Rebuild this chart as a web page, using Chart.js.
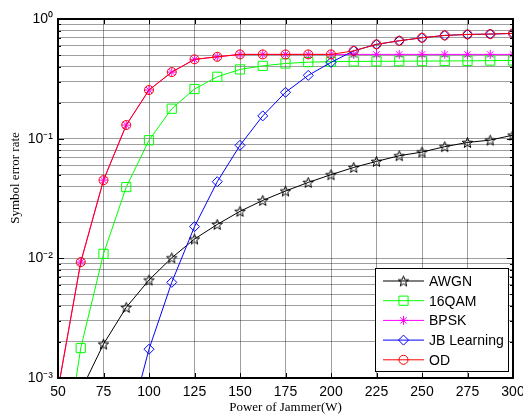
<!DOCTYPE html>
<html>
<head>
<meta charset="utf-8">
<script src="https://cdn.jsdelivr.net/npm/chart.js@4"></script>
<style>
  html, body { margin: 0; padding: 0; background: #fff; }
  #wrap { width: 523px; height: 418px; position: relative; }
</style>
</head>
<body>
<div id="wrap"><canvas id="chart"></canvas></div>
<script>
// Power of jammer (W)
const power = [50, 62.5, 75, 87.5, 100, 112.5, 125, 137.5, 150, 162.5, 175,
  187.5, 200, 212.5, 225, 237.5, 250, 262.5, 275, 287.5, 300];

const awgn = [null, 0.00078, 0.00192, 0.00389, 0.00659, 0.0101, 0.0145, 0.0192,
  0.0247, 0.0305, 0.0365, 0.0431, 0.050, 0.0575, 0.0646, 0.072, 0.0773, 0.0857,
  0.093, 0.0973, 0.107];
const qam16 = [0.0001, 0.00178, 0.0109, 0.0394, 0.097, 0.178, 0.26, 0.329, 0.379,
  0.406, 0.425, 0.436, 0.44, 0.442, 0.443, 0.444, 0.445, 0.446, 0.447, 0.449, 0.45];
const bpsk = [0.0008, 0.0093, 0.045, 0.13, 0.255, 0.36, 0.46, 0.483, 0.506, 0.506,
  0.506, 0.506, 0.506, 0.506, 0.506, 0.506, 0.506, 0.506, 0.506, 0.506, 0.506];
const jbLearning = [null, null, null, 0.00033, 0.00174, 0.0063, 0.0184, 0.0437,
  0.088, 0.155, 0.244, 0.338, 0.434, 0.542, 0.614, 0.658, 0.697, 0.729, 0.743,
  0.748, 0.758];
const od = [0.0008, 0.0093, 0.045, 0.13, 0.255, 0.36, 0.46, 0.483, 0.506, 0.506,
  0.506, 0.506, 0.506, 0.542, 0.614, 0.658, 0.697, 0.729, 0.743, 0.748, 0.758];

const xTicks = [50, 75, 100, 125, 150, 175, 200, 225, 250, 275, 300];
const yDecades = [0.001, 0.01, 0.1, 1];
const yDecadeLabels = ["10\u207B\u00B3", "10\u207B\u00B2", "10\u207B\u00B9", "10\u2070"];

// minor log ticks 1..9 per decade
const yTicks = [];
for (let d = 0; d < 3; d++) {
  for (let m = 1; m < 10; m++) yTicks.push(+(m * yDecades[d]).toPrecision(3));
}
yTicks.push(1);

// five pointed star marker (matlab 'p')
function pentagram(r, color) {
  const c = document.createElement("canvas");
  const s = Math.ceil(r * 2 + 4);
  c.width = s; c.height = s;
  const g = c.getContext("2d");
  g.translate(s / 2, s / 2 + 0.5);
  g.beginPath();
  for (let i = 0; i < 10; i++) {
    const rr = i % 2 === 0 ? r : r * 0.42;
    const a = -Math.PI / 2 + i * Math.PI / 5;
    g[i === 0 ? "moveTo" : "lineTo"](rr * Math.cos(a), rr * Math.sin(a));
  }
  g.closePath();
  g.strokeStyle = color;
  g.lineWidth = 1;
  g.stroke();
  return c;
}
const starImg = pentagram(5.5, "#000");

const series = [
  { label: "AWGN", data: awgn, color: "#000000", style: starImg, r: 5, order: 4 },
  { label: "16QAM", data: qam16, color: "#00ff00", style: "rect", r: 6.5, order: 3 },
  { label: "BPSK", data: bpsk, color: "#ff00ff", style: "star", r: 4.5, order: 2 },
  { label: "JB Learning", data: jbLearning, color: "#0000ff", style: "rectRot", r: 5, order: 1 },
  { label: "OD", data: od, color: "#ff0000", style: "circle", r: 4.5, order: 0 },
];

const box = {
  id: "box",
  afterDatasetsDraw(chart) {
    const { ctx, chartArea: a, scales } = chart;
    ctx.save();
    ctx.strokeStyle = "#000";
    ctx.lineWidth = 1;
    ctx.beginPath();
    // inner ticks on all four sides
    xTicks.forEach((v) => {
      const x = Math.round(scales.x.getPixelForValue(v)) + 0.5;
      ctx.moveTo(x, a.bottom); ctx.lineTo(x, a.bottom - 5);
      ctx.moveTo(x, a.top); ctx.lineTo(x, a.top + 5);
    });
    yTicks.forEach((v) => {
      const y = Math.round(scales.y.getPixelForValue(v)) + 0.5;
      const len = yDecades.includes(v) ? 6 : 3;
      ctx.moveTo(a.left, y); ctx.lineTo(a.left + len, y);
      ctx.moveTo(a.right, y); ctx.lineTo(a.right - len, y);
    });
    ctx.stroke();
    ctx.lineWidth = 2;
    ctx.strokeRect(a.left, a.top, a.right - a.left, a.bottom - a.top);

    // legend
    const lx = 375, ly = 268, lw = 133, lh = 103;
    ctx.fillStyle = "#fff";
    ctx.fillRect(lx, ly, lw, lh);
    ctx.strokeStyle = "#000";
    ctx.lineWidth = 1;
    ctx.strokeRect(lx + 0.5, ly + 0.5, lw, lh);
    ctx.font = "14px 'Liberation Sans', Arial, sans-serif";
    ctx.textBaseline = "middle";
    series.forEach((s, i) => {
      const y = 281 + i * 19.7;
      ctx.strokeStyle = s.color;
      ctx.lineWidth = 1;
      ctx.beginPath();
      ctx.moveTo(383, y); ctx.lineTo(424, y);
      ctx.stroke();
      ctx.fillStyle = "rgba(0,0,0,0)";
      Chart.helpers.drawPoint(ctx, {
        pointStyle: s.style, radius: s.r, borderWidth: 1, rotation: 0
      }, 403.5, y);
      ctx.fillStyle = "#000";
      ctx.fillText(s.label, 429, y + 1);
    });

    // axis titles
    ctx.fillStyle = "#000";
    ctx.font = "13px 'Liberation Serif', 'Times New Roman', serif";
    ctx.textAlign = "center";
    ctx.textBaseline = "middle";
    ctx.fillText("Power of Jammer(W)", 285.5, 408);
    ctx.translate(16, 178);
    ctx.rotate(-Math.PI / 2);
    ctx.fillText("Symbol error rate", 0, 0);
    ctx.restore();
  }
};

new Chart(document.getElementById("chart"), {
  type: "line",
  data: {
    labels: power,
    datasets: series.map((s) => ({
      label: s.label,
      data: s.data.map((v, i) => ({ x: power[i], y: v })),
      borderColor: s.color,
      backgroundColor: "rgba(0,0,0,0)",
      borderWidth: 1,
      pointStyle: s.style,
      pointRadius: s.r,
      pointBorderColor: s.color,
      pointBorderWidth: 1,
      pointBackgroundColor: "rgba(0,0,0,0)",
      tension: 0,
      spanGaps: false,
      clip: 0,
      order: s.order,
    })),
  },
  options: {
    responsive: true,
    maintainAspectRatio: false,
    animation: false,
    layout: { padding: { top: 19, right: 10, left: 0, bottom: 0 } },
    plugins: { legend: { display: false }, tooltip: { enabled: false } },
    elements: { point: { hoverRadius: 5 } },
    scales: {
      x: {
        type: "linear",
        min: 50,
        max: 300,
        afterBuildTicks: (sc) => { sc.ticks = xTicks.map((v) => ({ value: v })); },
        afterFit: (sc) => {
          sc.height = 40;
          sc.paddingLeft = 0;
          sc.paddingRight = 0;
        },
        grid: { color: "rgba(0,0,0,0.38)", drawTicks: false, lineWidth: 1 },
        border: { display: false },
        ticks: {
          color: "#000",
          padding: 6,
          maxRotation: 0,
          autoSkip: false,
          font: { family: "'Liberation Sans', Arial, sans-serif", size: 14 },
        },
      },
      y: {
        type: "logarithmic",
        min: 0.001,
        max: 1,
        afterBuildTicks: (sc) => { sc.ticks = yTicks.map((v) => ({ value: v })); },
        afterFit: (sc) => {
          sc.width = 58;
          sc.paddingTop = 0;
          sc.paddingBottom = 0;
        },
        grid: { color: "rgba(0,0,0,0.38)", drawTicks: false, lineWidth: 1 },
        border: { display: false },
        ticks: {
          color: "#000",
          padding: 5,
          autoSkip: false,
          font: { family: "'Liberation Sans', Arial, sans-serif", size: 14 },
          callback: (v) => {
            const k = yDecades.indexOf(v);
            return k >= 0 ? yDecadeLabels[k] : "";
          },
        },
      },
    },
  },
  plugins: [box],
});
</script>
</body>
</html>
